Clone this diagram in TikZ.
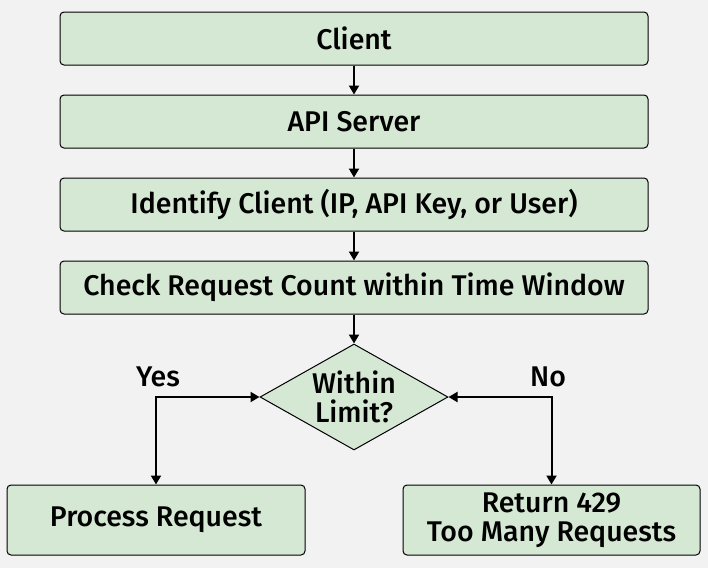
\documentclass[tikz,border=0pt]{standalone}
\usepackage{fontspec}
\setmainfont{Fira Sans}[BoldFont={Fira Sans Medium}]
\usepackage{xcolor}
\usepackage{tikz}
\usetikzlibrary{shapes.geometric,arrows.meta,positioning}

\definecolor{bggray}{RGB}{242,242,242}
\definecolor{boxgreen}{RGB}{213,232,212}

\begin{document}
\begin{tikzpicture}[x=1pt, y=1pt, node distance=29pt, >={Triangle[length=9pt,width=10pt]},
  every node/.style={font=\fontsize{28.5}{29}\selectfont\bfseries, align=center, text=black},
  stepbox/.style={draw, line width=1pt, rounded corners=4pt, fill=boxgreen, minimum width=588pt, minimum height=53pt, inner sep=0pt}]
\useasboundingbox[fill=bggray] (0,0) rectangle (708,-568);
% Nodes
\node[stepbox] (client) at (354,-38.5) {Client};
\node[stepbox, below=of client] (server) {API Server};
\node[stepbox, below=of server] (identify) {Identify Client (IP, API Key, or User)};
\node[stepbox, below=of identify] (check) {Check Request Count within Time Window};
\node[draw, line width=1pt, diamond, aspect=1.77, fill=boxgreen, minimum width=188pt, minimum height=106pt, inner sep=0pt, below=of check] (limit) {Within\\Limit?};
\node[stepbox, minimum width=298pt, minimum height=70pt, below=34pt of limit.south, xshift=-198pt] (process) {Process Request};
\node[stepbox, minimum width=297pt, minimum height=70pt, below=34pt of limit.south, xshift=197.5pt] (reject) {Return 429\\Too Many Requests};
% Labels
\node (yes) at (158,-377) {Yes};
\node (no) at (548,-377) {No};
% Arrows
\draw[->, line width=2pt] (client) -- (server);
\draw[->, line width=2pt] (server) -- (identify);
\draw[->, line width=2pt] (identify) -- (check);
\draw[->, line width=2pt] (check) -- (limit);
\draw[<->, line width=2pt] (limit.west) -| (process.north);
\draw[<->, line width=2pt] (limit.east) -| (reject.north);
\end{tikzpicture}
\end{document}
